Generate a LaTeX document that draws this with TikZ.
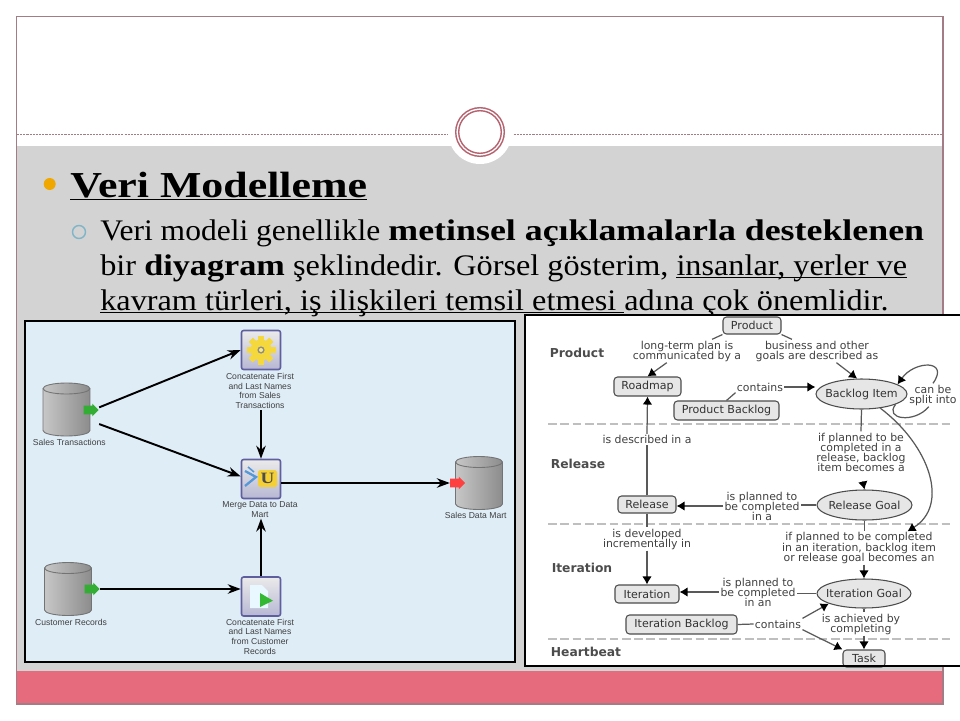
\documentclass[tikz,border=0pt]{standalone}
\usepackage{fontspec}
\setmainfont[FakeStretch=1.08, BoldFeatures={FakeStretch=1.2}]{Liberation Serif}
\newfontfamily\capFont{Liberation Sans}
\newfontfamily\mapFont{DejaVu Sans}
\usetikzlibrary{arrows.meta, positioning, shapes.geometric, shapes.arrows, calc}
\definecolor{frameRose}{HTML}{A27D85}
\definecolor{slideGray}{HTML}{D3D3D3}
\definecolor{bandRose}{HTML}{E66B7D}
\definecolor{ringRose}{HTML}{B5636F}
\definecolor{bulletOrange}{HTML}{F0A800}
\definecolor{bulletBlue}{HTML}{7FB5C8}
\definecolor{panelBlue}{HTML}{DFEDF7}
\definecolor{taskEdge}{HTML}{5F5F9F}
\definecolor{gearYellow}{HTML}{F4D83C}
\definecolor{mapGray}{HTML}{E6E6E6}
\def\ulText#1{\underline{\smash{#1}}}
\def\ovalText#1{\makebox[0pt]{#1}}
\def\tightLines{\lineskiplimit=-5pt\relax\lineskip=0pt\relax}
\tikzset{
    slideText/.style={anchor=base west, inner sep=0pt, font=\fontsize{17}{20}\selectfont},
    portNode/.style={single arrow, single arrow head extend=0.4mm, minimum height=0.3cm, inner sep=0.8mm},
    taskNode/.style={rectangle, rounded corners=1.2pt, draw=taskEdge, line width=0.9pt, top color=black!8, bottom color=taskEdge!45, minimum size=0.78cm, inner sep=0pt},
    capLabel/.style={align=center, inner sep=0.5pt, text=black!75, font=\capFont\fontsize{4.9}{5.5}\selectfont},
    flowArrow/.style={-{Stealth[length=2.6mm, width=1.9mm]}, line width=1.1pt, black},
    mapBox/.style={rectangle, rounded corners=2pt, draw=black!70, line width=0.6pt, fill=mapGray, inner sep=0pt, text=black!80, font=\mapFont\fontsize{6.3}{6.5}\selectfont},
    mapOval/.style={ellipse, draw=black!70, line width=0.6pt, fill=mapGray, inner sep=0pt, text=black!80, font=\mapFont\fontsize{6.3}{6.5}\selectfont},
    mapLabel/.style={align=center, inner sep=0.6pt, text=black!75, font=\mapFont\fontsize{6.2}{5.7}\selectfont\tightLines},
    laneLabel/.style={inner sep=0pt, text=black!70, font=\mapFont\bfseries\fontsize{7}{7}\selectfont},
    laneLine/.style={black!25, line width=0.6pt, dash pattern=on 5pt off 2pt},
    mapLine/.style={black!65, line width=0.7pt},
    mapArrow/.style={mapLine, -{Latex[length=1.6mm, width=1.9mm, black]}}
}
\begin{document}
\begin{tikzpicture}[x=0.02cm, y=-0.02cm]
    \useasboundingbox (0,0) rectangle (960,720);

    % --- Database Macro ---
    \def\drawDatabase#1{
        \shade[left color=black!22, middle color=black!6, right color=black!45, draw=black!55, line width=0.5pt]
            ($(#1)+(-23.5,-21)$) arc[start angle=180, end angle=360, x radius=23.5, y radius=5.5]
            -- ++(0,42) arc[start angle=0, end angle=180, x radius=23.5, y radius=5.5] -- cycle;
        \draw[black!55, line width=0.5pt] ($(#1)+(-23.5,-21)$) arc[start angle=180, end angle=0, x radius=23.5, y radius=5.5];
    }

    % --- Slide background ---
    \fill[white] (0,0) rectangle (960,720);
    \fill[slideGray] (17,146) rectangle (943,671);
    \fill[bandRose] (17,671) rectangle (943,704);
    \draw[frameRose, line width=0.6pt] (16.5,16.5) rectangle (943,704);
    \draw[frameRose, line width=0.4pt, dash pattern=on 1.2pt off 0.6pt] (17,134.5) -- (943,134.5);
    \fill[white] (480,132) circle (32);
    \draw[ringRose, line width=0.8pt] (480,132) circle (24.3);
    \draw[ringRose, line width=0.8pt] (480,132) circle (21.3);

    % --- Slide text ---
    \fill[bulletOrange] (49.7,184) circle (6);
    \draw[bulletBlue, line width=0.8pt] (79,232) circle (6.5);
    \node[slideText, font=\fontsize{20.8}{24}\selectfont\bfseries] (titleLine) at (70,197) {\ulText{Veri Modelleme}};
    \node[slideText] (bodyOne) at (100,240) {\scalebox{0.977}[1]{Veri modeli genellikle} \textbf{metinsel açıklamalarla desteklenen}};
    \node[slideText] (bodyTwo) at (100,275) {bir \scalebox{0.955}[1]{\textbf{diyagram}} şeklindedir. Görsel gösterim, \ulText{insanlar, yerler ve}};
    \node[slideText] (bodyThree) at (100,310) {\ulText{kavram türleri, iş ilişkileri temsil etmesi }adına çok önemlidir.};

    % --- Left panel ---
    \fill[panelBlue] (25,321) rectangle (515,662);

    % Databases
    \coordinate (dbSales) at (66.5,409.5);
    \coordinate (dbCustomer) at (68,589);
    \coordinate (dbMart) at (479,483);
    \drawDatabase{dbSales}
    \drawDatabase{dbCustomer}
    \drawDatabase{dbMart}
    \node[portNode, fill=green!60!black!80] (portSales) at (89,410) {};
    \node[portNode, fill=green!60!black!80] (portCustomer) at (90,589) {};
    \node[portNode, fill=red!75!white] (portMart) at (455.5,483) {};

    % Tasks
    \node[taskNode] (taskGear) at (261,350) {};
    \node[taskNode] (taskMerge) at (261,479) {};
    \node[taskNode] (taskDoc) at (261,596.5) {};

    % Gear icon
    \foreach \a in {0,45,...,315} {
        \fill[gearYellow, rotate around={\a:(taskGear)}] (258,335.5) rectangle (264,343);
    }
    \fill[gearYellow] (taskGear) circle (10.5);
    \fill[black!45] (taskGear) circle (3.6);
    \fill[gearYellow!60] (taskGear) circle (2);

    % Merge icon
    \draw[cyan!60!blue!70, line width=1.3pt] (245,471) -- (256,477) -- (245,486);
    \draw[cyan!60!blue!70, line width=0.9pt] (248,467) -- (254,472);
    \fill[gearYellow!90!orange, rounded corners=1pt] (258,470) rectangle (277,487);
    \node[inner sep=0pt, font=\bfseries\fontsize{9}{9}\selectfont, text=black!70] (mergeLetter) at (267.5,478.5) {U};

    % Document icon
    \fill[white!70!cyan!30] (250,585) -- (262,585) -- (268,591) -- (268,608) -- (250,608) -- cycle;
    \fill[green!65!black!80] (260,593) -- (273,600.7) -- (260,607) -- cycle;

    % Captions
    \node[capLabel] (capGear) at (260,391) {Concatenate First\\and Last Names\\from Sales\\Transactions};
    \node[capLabel] (capMerge) at (260,509.5) {Merge Data to Data\\Mart};
    \node[capLabel] (capDoc) at (260,636.5) {Concatenate First\\and Last Names\\from Customer\\Records};
    \node[capLabel] (capSales) at (69.3,442.7) {Sales Transactions};
    \node[capLabel] (capCustomer) at (71,622) {Customer Records};
    \node[capLabel] (capMart) at (475.7,515.3) {Sales Data Mart};

    % Flows
    \draw[flowArrow] ([yshift=1.5pt]portSales.tip) -- (taskGear.west);
    \draw[flowArrow] ([yshift=-8pt]portSales.tip) -- ([yshift=1.5pt]taskMerge.west);
    \draw[flowArrow] (capGear.south -| taskMerge.north) -- (taskMerge.north);
    \draw[flowArrow] (taskMerge.east |- portMart) -- (portMart.west);
    \draw[flowArrow] (portCustomer.tip) -- (portCustomer.tip -| taskDoc.west);
    \draw[flowArrow] (taskDoc.north) -- (capMerge.south -| taskDoc.north);
    \draw[black, line width=0.6pt] (25,321) rectangle (515,662);

    % --- Right panel ---
    \fill[white] (525,315) rectangle (960,666);

    % Lanes
    \node[laneLabel] (laneProduct) at (577,353) {Product};
    \node[laneLabel] (laneRelease) at (578,464) {Release};
    \node[laneLabel] (laneIteration) at (582,568) {Iteration};
    \node[laneLabel] (laneHeartbeat) at (586,652) {Heartbeat};
    \draw[laneLine] (548,424) -- (952,424);
    \draw[laneLine] (548,524) -- (952,524);
    \draw[laneLine] (548,639) -- (952,639);

    % Concepts
    \node[mapBox, minimum width=1.16cm, minimum height=0.34cm] (product) at (752,325.5) {Product};
    \node[mapBox, minimum width=1.34cm, minimum height=0.38cm] (roadmap) at (647.5,386.5) {Roadmap};
    \node[mapBox, minimum width=2.1cm, minimum height=0.38cm] (prodBacklog) at (726.5,410.5) {Product Backlog};
    \node[mapOval, minimum width=1.82cm, minimum height=0.6cm] (backlogItem) at (861.5,394) {\ovalText{Backlog Item}};
    \node[mapBox, minimum width=1.16cm, minimum height=0.34cm] (release) at (647,504.5) {Release};
    \node[mapOval, minimum width=1.9cm, minimum height=0.6cm] (releaseGoal) at (864.5,505) {\ovalText{Release Goal}};
    \node[mapBox, minimum width=1.28cm, minimum height=0.36cm] (iteration) at (647,594) {Iteration};
    \node[mapOval, minimum width=1.88cm, minimum height=0.58cm] (iterGoal) at (864,593.5) {\ovalText{Iteration Goal}};
    \node[mapBox, minimum width=2.22cm, minimum height=0.38cm] (iterBacklog) at (681.5,624.5) {Iteration Backlog};
    \node[mapBox, minimum width=0.84cm, minimum height=0.34cm] (task) at (864,658.5) {Task};

    % Link texts
    \node[mapLabel] (lblRoadmap) at (687,351) {long-term plan is\\communicated by a};
    \node[mapLabel] (lblGoals) at (817,351) {business and other\\goals are described as};
    \node[mapLabel] (lblContains) at (760,387) {contains};
    \node[mapLabel] (lblSplit) at (933,395) {can be\\split into};
    \node[mapLabel] (lblDescribed) at (647,439.5) {is described in a};
    \node[mapLabel] (lblRelease) at (861,452) {if planned to be\\completed in a\\release, backlog\\item becomes a};
    \node[mapLabel] (lblPlanned) at (762,506) {is planned to\\be completed\\in a};
    \node[mapLabel] (lblDeveloped) at (647,539) {is developed\\incrementally in};
    \node[mapLabel] (lblIteration) at (859,548) {if planned to be completed\\in an iteration, backlog item\\or release goal becomes an};
    \node[mapLabel] (lblPlannedIt) at (758,592) {is planned to\\be completed\\in an};
    \node[mapLabel] (lblAchieved) at (861,624) {is achieved by\\completing};
    \node[mapLabel] (lblContainsIt) at (778,624) {contains};

    % Links
    \draw[mapLine] (product.south west) -- (lblRoadmap.25);
    \draw[mapArrow] (lblRoadmap.210) -- (roadmap.north);
    \draw[mapLine] (product.south east) -- (lblGoals.155);
    \draw[mapArrow] (lblGoals.329) -- (backlogItem.106);
    \draw[mapLine] (prodBacklog.north) -- (lblContains.south west);
    \draw[mapArrow] (lblContains.east) -- (lblContains.east -| backlogItem.west);
    \draw[mapArrow] (lblSplit.north) .. controls +(17,-24) and +(17,-24) .. (backlogItem.15);
    \draw[mapLine] (lblSplit.250) .. controls +(-14,17) and +(-12,15) .. (backlogItem.-17);
    \draw[mapArrow] (backlogItem.-37) .. controls +(50,38) and +(42,-26) .. (lblIteration.19);
    \draw[mapLine] (release.north) -- (lblDescribed.south);
    \draw[mapArrow] (lblDescribed.north) -- (roadmap.south);
    \draw[mapLine] (backlogItem.south) -- (lblRelease.north);
    \draw[mapArrow, shorten <=5pt] (lblRelease.south) -- (releaseGoal.north);
    \draw[mapLine] (releaseGoal.west) -- (lblPlanned.east |- releaseGoal.west);
    \draw[mapArrow] (lblPlanned.west) -- (lblPlanned.west -| release.east);
    \draw[mapLine] (release.south) -- (lblDeveloped.north);
    \draw[mapArrow] (lblDeveloped.south) -- (iteration.north);
    \draw[mapLine] (releaseGoal.south) -- (lblIteration.north -| releaseGoal.south);
    \draw[mapArrow] (lblIteration.south -| iterGoal.north) -- (iterGoal.north);
    \draw[mapLine] (iterGoal.west) -- (lblPlannedIt.east |- iterGoal.west);
    \draw[mapArrow] (lblPlannedIt.west) -- (lblPlannedIt.west -| iteration.east);
    \draw[mapLine] (iterBacklog.east) -- (lblContainsIt.west);
    \draw[mapArrow] (lblContainsIt.north east) -- (iterGoal.196);
    \draw[mapArrow] (lblContainsIt.south east) -- (task.north west);
    \draw[mapLine] (iterGoal.south) -- (lblAchieved.north -| iterGoal.south);
    \draw[mapArrow] (lblAchieved.south -| task.north) -- (task.north);

    \draw[black, line width=1pt] (525,315) rectangle (961,666);
\end{tikzpicture}
\end{document}
